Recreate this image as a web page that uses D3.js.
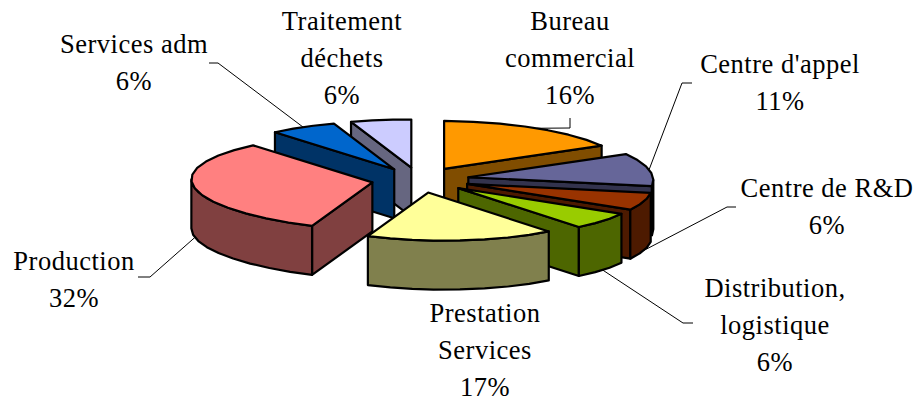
<!DOCTYPE html>
<html>
<head>
<meta charset="utf-8">
<script src="https://cdn.jsdelivr.net/npm/d3@7"></script>
<style>
html, body { margin: 0; padding: 0; background: #fff; }
text { font-family: "Liberation Serif", serif; font-size: 26.5px; letter-spacing: 0.5px; fill: #000; text-anchor: middle; }
</style>
</head>
<body>
<div id="container"></div>
<script>
// slices, clockwise from 12 o'clock
var categories = ["Bureau commercial", "Centre d'appel", "Centre de R&D", "Distribution, logistique", "Prestation Services", "Production", "Services adm", "Traitement déchets"];
var values = [16, 11, 6, 6, 17, 32, 6, 6];
var topColors = ["#ff9900", "#666699", "#993300", "#99cc00", "#ffff99", "#ff8080", "#0066cc", "#ccccff"];
var wallColors = ["#804d00", "#33334d", "#4d1a00", "#4d6600", "#80804d", "#804040", "#003366", "#666680"];

// label text broken in lines
var labelLines = [["Bureau", "commercial"], ["Centre d'appel"], ["Centre de R&D"], ["Distribution,", "logistique"], ["Prestation", "Services"], ["Production"], ["Services adm"], ["Traitement", "déchets"]];

// where the label goes (center x, first baseline), and the elbow of its leader line
var labelX = [570, 780, 827, 775, 485, 74, 134, 342];
var labelY = [30, 73, 197, 297, 322, 270, 53, 30];
var elbows = [[[570, 118], [570, 128]], [[692, 83], [682, 83]], [[736, 207], [727, 207]], [[693, 323], [683, 323]], null, [[138, 277], [150, 277]], [[209, 63], [218, 63]], null];

var width = 914, height = 401;
var cx = 420.5, cy = 180, explodeX = 49, explodeY = 12.7;
var rxLeft = 181, rxRight = 185, ry = 48, tilt = 3, depth = 49;
var lineHeight = 37;

var svg = d3.select("#container").append("svg")
    .attr("width", width)
    .attr("height", height)
    .style("display", "block");

var slices = d3.pie().sort(null)(values).map(function(d, i) {
    var mid = (d.startAngle + d.endAngle) / 2;
    d.i = i;
    d.mid = mid;
    d.apex = [cx + explodeX * Math.sin(mid), cy - explodeY * Math.cos(mid)];
    return d;
});

// point on the tilted rim of a slice
function rim(d, a) {
    var s = Math.sin(a);
    var x = s < 0 ? -rxLeft * Math.pow(-s, 1.1) : rxRight * Math.pow(s, 0.95);
    return [d.apex[0] + x, d.apex[1] - ry * Math.cos(a) + tilt * s];
}

function arcPoints(d, a0, a1) {
    var n = Math.max(1, Math.round((a1 - a0) / 0.14));
    return d3.range(n + 1).map(function(k) { return rim(d, a0 + (a1 - a0) * k / n); });
}

function down(p) { return [p[0], p[1] + depth]; }

var line = d3.line().curve(d3.curveLinearClosed);

//Leader lines go behind the pie
var leaders = svg.append("g").attr("class", "leaders");
slices.forEach(function(d) {
    var e = elbows[d.i];
    if (!e) return;
    var end = rim(d, d.mid);
    if (Math.cos(d.mid) < -0.1) end = down(end);
    leaders.append("path")
        .attr("d", d3.line()(e.concat([end])))
        .attr("fill", "none")
        .attr("stroke", "#000")
        .attr("stroke-width", 1);
});

//Painter's order, back to front
var drawOrder = [7, 6, 5, 0, 1, 2, 3, 4];
var pie = svg.append("g").attr("class", "pie");

drawOrder.forEach(function(i) {
    var d = slices[i], g = pie.append("g");
    var a = rim(d, d.startAngle), b = rim(d, d.endAngle);

    function face(points, fill) {
        g.append("path")
            .attr("d", line(points))
            .attr("fill", fill)
            .attr("stroke", "#000")
            .attr("stroke-width", 2.2)
            .attr("stroke-linejoin", "round");
    }

    // radial walls, only those turned to the viewer
    if (Math.sin(d.startAngle) < -1e-6) face([d.apex, a, down(a), down(d.apex)], wallColors[i]);
    if (Math.sin(d.endAngle) > 1e-6) face([d.apex, b, down(b), down(d.apex)], wallColors[i]);

    // only the front half of the rim shows
    var a0 = Math.max(d.startAngle, Math.PI / 2), a1 = Math.min(d.endAngle, Math.PI * 1.5);
    if (a1 > a0) {
        var top = arcPoints(d, a0, a1);
        face(top.concat(top.slice().reverse().map(down)), wallColors[i]);
    }

    face([d.apex].concat(arcPoints(d, d.startAngle, d.endAngle)), topColors[i]);
});

//Labels
var labels = svg.append("g").attr("class", "labels");
slices.forEach(function(d) {
    var lines = labelLines[d.i].concat([values[d.i] + "%"]);
    lines.forEach(function(t, k) {
        labels.append("text")
            .attr("x", labelX[d.i])
            .attr("y", labelY[d.i] + k * lineHeight)
            .text(t);
    });
});
</script>
</body>
</html>
